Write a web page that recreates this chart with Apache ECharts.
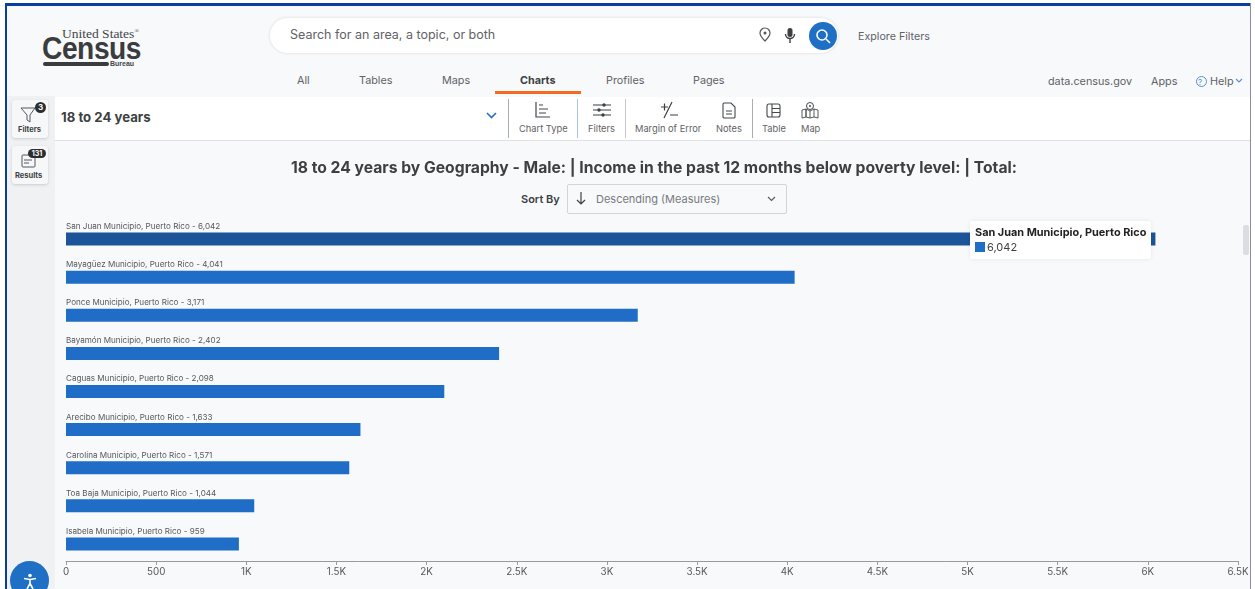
<!DOCTYPE html>
<html><head><meta charset="utf-8">
<script src="https://cdn.jsdelivr.net/npm/echarts@6/dist/echarts.min.js"></script>
<style>
html,body{margin:0;padding:0;background:#fff;overflow:hidden}
#page{position:relative;width:1255px;height:589px;overflow:hidden;background:#f8f9fb;font-family:Inter,"Noto Sans",sans-serif;color:#3d3f42}
#page>*{position:absolute}
.t{white-space:nowrap;line-height:1}
.g{color:#5f6266}
.ic{position:absolute;overflow:visible}
#chart{left:0;top:0;width:1255px;height:589px}
</style></head><body>
<div id="page">
<div style="left:0;top:0;width:1255px;height:3px;background:#fff"></div>
<div style="left:0;top:3px;width:1255px;height:3px;background:#0b3d9c"></div>
<div style="left:0;top:3px;width:5px;height:586px;background:#fff"></div>
<div style="left:5px;top:3px;width:2px;height:586px;background:#0b3d9c"></div>
<div style="left:1250px;top:3px;width:1px;height:586px;background:#8b8f96"></div>
<div style="left:1251px;top:3px;width:4px;height:586px;background:#fff"></div>
<div style="left:7px;top:96px;width:48px;height:493px;background:#f0f1f3"></div>
<div style="left:55px;top:97px;width:1195px;height:43px;background:#fff;border-bottom:1px solid #dfe1e4"></div>

<!-- logo -->
<div class="t" style="left:62px;top:26px;font:13.5px 'Liberation Serif',serif;color:#44464a">United States<sup style="font-size:6px;line-height:0">®</sup></div>
<div class="t" style="left:42px;top:30px;font:bold 32px 'Liberation Sans',sans-serif;color:#3a3c40;transform:scaleX(.88);transform-origin:left;letter-spacing:-.5px">Census</div>
<div style="left:43px;top:62px;width:66px;height:4px;border-radius:2px;background:#3a3c40"></div>
<div class="t" style="left:110px;top:60px;font:bold 7px 'Liberation Sans',sans-serif;color:#44464a">Bureau</div>

<!-- search -->
<div style="left:270px;top:18px;width:568px;height:35px;border-radius:18px;background:#fff;box-shadow:0 0 3px #d5d7da"></div>
<div class="t g" style="left:290px;top:29px;font-size:12.5px">Search for an area, a topic, or both</div>
<svg class="ic" style="left:758px;top:27px" width="14" height="16" viewBox="0 0 14 16"><path d="M7 1a5 5 0 0 1 5 5c0 3-5 8-5 8S2 9 2 6a5 5 0 0 1 5-5z" fill="none" stroke="#555" stroke-width="1.2"/><circle cx="7" cy="6" r="1.5" fill="#555"/></svg>
<svg class="ic" style="left:783px;top:27px" width="14" height="17" viewBox="0 0 14 17"><rect x="4.5" y="1" width="5" height="9" rx="2.5" fill="#3d3f42"/><path d="M2.5 7a4.5 4.5 0 0 0 9 0M7 12v4" fill="none" stroke="#3d3f42" stroke-width="1.4"/></svg>
<div style="left:809px;top:22px;width:28px;height:28px;border-radius:50%;background:#1f6fc4"></div>
<svg class="ic" style="left:814px;top:27px" width="18" height="18" viewBox="0 0 18 18"><circle cx="8" cy="8" r="5" fill="none" stroke="#fff" stroke-width="1.6"/><path d="M12 12l4 4" stroke="#fff" stroke-width="1.6"/></svg>
<div class="t g" style="left:858px;top:32px;font-size:10.7px">Explore Filters</div>

<!-- tabs -->
<div class="t g" style="left:297px;top:76px;font-size:10.8px">All</div>
<div class="t g" style="left:359px;top:76px;font-size:10.8px">Tables</div>
<div class="t g" style="left:442px;top:76px;font-size:10.8px">Maps</div>
<div class="t" style="left:520px;top:76px;font-size:10.8px;font-weight:700">Charts</div>
<div style="left:495px;top:91px;width:86px;height:3px;background:#f26b21"></div>
<div class="t g" style="left:606px;top:76px;font-size:10.8px">Profiles</div>
<div class="t g" style="left:693px;top:76px;font-size:10.8px">Pages</div>
<div class="t g" style="left:1048px;top:77px;font-size:10.8px">data.census.gov</div>
<div class="t g" style="left:1151px;top:77px;font-size:10.8px">Apps</div>
<div class="t" style="left:1198px;top:78px;font-size:8px;color:#5b8fd0">?</div>
<div style="left:1196px;top:76px;width:9px;height:9px;border:1px solid #5b8fd0;border-radius:50%"></div>
<div class="t g" style="left:1210px;top:77px;font-size:10.8px">Help</div>
<svg class="ic" style="left:1235px;top:78px" width="8" height="6" viewBox="0 0 8 6"><path d="M1 1l3 3 3-3" fill="none" stroke="#5b8fd0" stroke-width="1.1"/></svg>

<!-- side buttons -->
<div style="left:12px;top:100px;width:36px;height:38px;border-radius:3px;background:#f6f7f8;box-shadow:0 1px 3px #c9cbce"></div>
<svg class="ic" style="left:20px;top:107px" width="20" height="16" viewBox="0 0 20 16"><path d="M1 1h14L10 8v7L7 13V8z" fill="none" stroke="#55585c" stroke-width="1"/></svg>
<div style="left:35px;top:102px;width:11px;height:11px;border-radius:50%;background:#2b2d30;color:#fff;font-size:8px;font-weight:700;text-align:center;line-height:11px">3</div>
<div class="t" style="left:18px;top:126px;font-size:7.5px;font-weight:700">Filters</div>
<div style="left:12px;top:146px;width:36px;height:38px;border-radius:3px;background:#f6f7f8;box-shadow:0 1px 3px #c9cbce"></div>
<svg class="ic" style="left:21px;top:154px" width="15" height="14" viewBox="0 0 15 14"><rect x="1" y="1" width="13" height="12" rx="1" fill="none" stroke="#55585c"/><path d="M3 6h8M3 9h5" stroke="#55585c"/></svg>
<div style="left:28px;top:149px;width:18px;height:9px;border-radius:5px;background:#2b2d30;color:#fff;font-size:7px;font-weight:700;text-align:center;line-height:9px">131</div>
<div class="t" style="left:15px;top:172px;font-size:7.5px;font-weight:700">Results</div>

<!-- toolbar -->
<div class="t" style="left:61px;top:111px;font-size:13.2px;font-weight:700">18 to 24 years</div>
<svg class="ic" style="left:486px;top:112px" width="11" height="8" viewBox="0 0 11 8"><path d="M1 1l4.5 4.5L10 1" fill="none" stroke="#2a6fbe" stroke-width="1.6"/></svg>
<div style="left:508px;top:99px;width:1px;height:39px;background:#a9acb0"></div>
<div style="left:577px;top:99px;width:1px;height:39px;background:#a9c4e2"></div>
<div style="left:625px;top:99px;width:1px;height:39px;background:#c4c7cb"></div>
<div style="left:752px;top:99px;width:1px;height:39px;background:#a9acb0"></div>
<svg class="ic" style="left:535px;top:102px" width="16" height="16" viewBox="0 0 16 16"><path d="M1 0v15h14M4 3h4M4 7h9M4 11h7" fill="none" stroke="#45474b" stroke-width="1.2"/></svg>
<svg class="ic" style="left:592px;top:102px" width="20" height="16" viewBox="0 0 20 16"><path d="M1 3h18M1 8h18M1 13h18" stroke="#3d3f42" stroke-width="1.2"/><circle cx="12" cy="3" r="1.7" fill="#3d3f42"/><circle cx="7" cy="8" r="1.7" fill="#3d3f42"/><circle cx="11" cy="13" r="1.7" fill="#3d3f42"/></svg>
<svg class="ic" style="left:659px;top:101px" width="20" height="18" viewBox="0 0 20 18"><path d="M2 6h7M5.5 2.5v7M13 1L5 17M11 14h8" fill="none" stroke="#3d3f42" stroke-width="1.2"/></svg>
<svg class="ic" style="left:722px;top:102px" width="14" height="17" viewBox="0 0 14 17"><path d="M2 1h7l4 4v10a1 1 0 0 1-1 1H2a1 1 0 0 1-1-1V2a1 1 0 0 1 1-1zM4 9h6M4 12h6" fill="none" stroke="#45474b" stroke-width="1.1"/></svg>
<svg class="ic" style="left:766px;top:103px" width="15" height="15" viewBox="0 0 15 15"><rect x="1" y="1" width="13" height="13" rx="2" fill="none" stroke="#45474b" stroke-width="1.1"/><path d="M6 1v13M6 5.5h8M6 9.5h8" stroke="#45474b" stroke-width="1.1"/></svg>
<svg class="ic" style="left:801px;top:101px" width="18" height="18" viewBox="0 0 18 18"><circle cx="9" cy="5" r="3.5" fill="none" stroke="#45474b"/><circle cx="9" cy="5" r="1" fill="#45474b"/><path d="M1 9l4-1v8l-4 1zM5 8l4 2 4-2 4 1v8l-4-1-4 1-4-1zM9 10v7M13 8v8" fill="none" stroke="#45474b" stroke-width=".9"/></svg>
<div class="t g" style="left:519px;top:124px;font-size:9.3px">Chart Type</div>
<div class="t g" style="left:588px;top:124px;font-size:9.3px">Filters</div>
<div class="t g" style="left:635px;top:124px;font-size:9.3px">Margin of Error</div>
<div class="t g" style="left:716px;top:124px;font-size:9.3px">Notes</div>
<div class="t g" style="left:762px;top:124px;font-size:9.3px">Table</div>
<div class="t g" style="left:801px;top:124px;font-size:9.3px">Map</div>

<!-- sort -->
<div class="t" style="left:521px;top:194px;font-size:11px;font-weight:600">Sort By</div>
<div style="left:567px;top:184px;width:218px;height:28px;border:1px solid #d3d5d8;border-radius:2px;background:#f8f9fb"></div>
<svg class="ic" style="left:576px;top:191px" width="10" height="15" viewBox="0 0 10 15"><path d="M5 1v12M1 9l4 4 4-4" fill="none" stroke="#3d3f42" stroke-width="1.2"/></svg>
<div class="t g" style="left:596px;top:194px;font-size:11px;color:#777a7e">Descending (Measures)</div>
<svg class="ic" style="left:767px;top:196px" width="9" height="6" viewBox="0 0 9 6"><path d="M1 1l3.5 3.5L8 1" fill="none" stroke="#55585c" stroke-width="1.1"/></svg>

<!-- scrollbar -->
<div style="left:1243px;top:225px;width:6px;height:30px;border-radius:2px;background:#dcdde0"></div>

<div id="chart"></div>

<!-- accessibility button -->
<div style="left:10px;top:561px;width:39px;height:39px;border-radius:50%;background:#1f6fc4"></div>
<svg class="ic" style="left:23px;top:573px" width="14" height="16" viewBox="0 0 14 16"><circle cx="7" cy="2.5" r="1.8" fill="#fff"/><path d="M1 5.5l6 1 6-1M7 6.5v4M7 10.5L4 16M7 10.5l3 5.5" fill="none" stroke="#fff" stroke-width="1.6"/></svg>
</div>
<script>
const chartTitle = "18 to 24 years by Geography - Male: | Income in the past 12 months below poverty level: | Total:";
const categories = ["San Juan Municipio, Puerto Rico","Mayagüez Municipio, Puerto Rico","Ponce Municipio, Puerto Rico","Bayamón Municipio, Puerto Rico","Caguas Municipio, Puerto Rico","Arecibo Municipio, Puerto Rico","Carolina Municipio, Puerto Rico","Toa Baja Municipio, Puerto Rico","Isabela Municipio, Puerto Rico"];
const values = [6042,4041,3171,2402,2098,1633,1571,1044,959];
const fmt = v => v.toLocaleString("en-US");
const kfmt = v => v === 0 ? "0" : v >= 1000 ? (v/1000) + "K" : String(v);

const chart = echarts.init(document.getElementById("chart"), null, {renderer:"canvas"});
chart.setOption({
  animation:false,
  backgroundColor:"transparent",
  textStyle:{fontFamily:"Inter, 'Noto Sans', sans-serif"},
  title:{text:chartTitle,left:649,top:155,textAlign:"center",
    textStyle:{fontSize:15.7,fontWeight:700,color:"#3d3f42",fontFamily:"Inter, 'Noto Sans', sans-serif"}},
  grid:{left:66,right:17,top:220,height:343,containLabel:false},
  tooltip:{show:true,trigger:"item",triggerOn:"none",alwaysShowContent:true,
    position:[970,221],padding:[5,5],borderWidth:0,backgroundColor:"#fff",
    extraCssText:"box-shadow:0 0 4px rgba(0,0,0,.08);border-radius:2px;",
    formatter:p=>'<div style="font:700 10.9px/13px Inter,sans-serif;color:#222">'+p.name+'</div>'+
      '<div style="font:11px/14px Inter,sans-serif;color:#3d3f42;margin-top:1px"><span style="display:inline-block;width:10px;height:10px;background:#1f6fc4;margin-right:2px;vertical-align:-1px"></span>'+fmt(p.value)+'</div>'},
  xAxis:{type:"value",min:0,max:6500,interval:500,position:"bottom",offset:-2,
    axisLine:{show:true,lineStyle:{color:"#9a9a9a"}},
    axisTick:{show:true,length:4,lineStyle:{color:"#9a9a9a"}},
    splitLine:{show:false},
    axisLabel:{formatter:kfmt,fontSize:9.8,color:"#55585c",margin:6,hideOverlap:false,showMaxLabel:true,showMinLabel:true}},
  yAxis:{type:"category",data:categories,inverse:true,
    axisLine:{show:false},axisTick:{show:false},axisLabel:{show:false}},
  series:[{type:"bar",barWidth:13,
    data:values.map((v,i)=>({value:v,itemStyle:{color:i===0?"#1b5499":"#1f6dc6"}})),
    label:{show:true,position:[0,-10],color:"#55585c",fontSize:8.1,
      formatter:p=>p.name+" - "+fmt(p.value)}}]
});
chart.dispatchAction({type:"showTip",seriesIndex:0,dataIndex:0});
</script>
</body></html>
